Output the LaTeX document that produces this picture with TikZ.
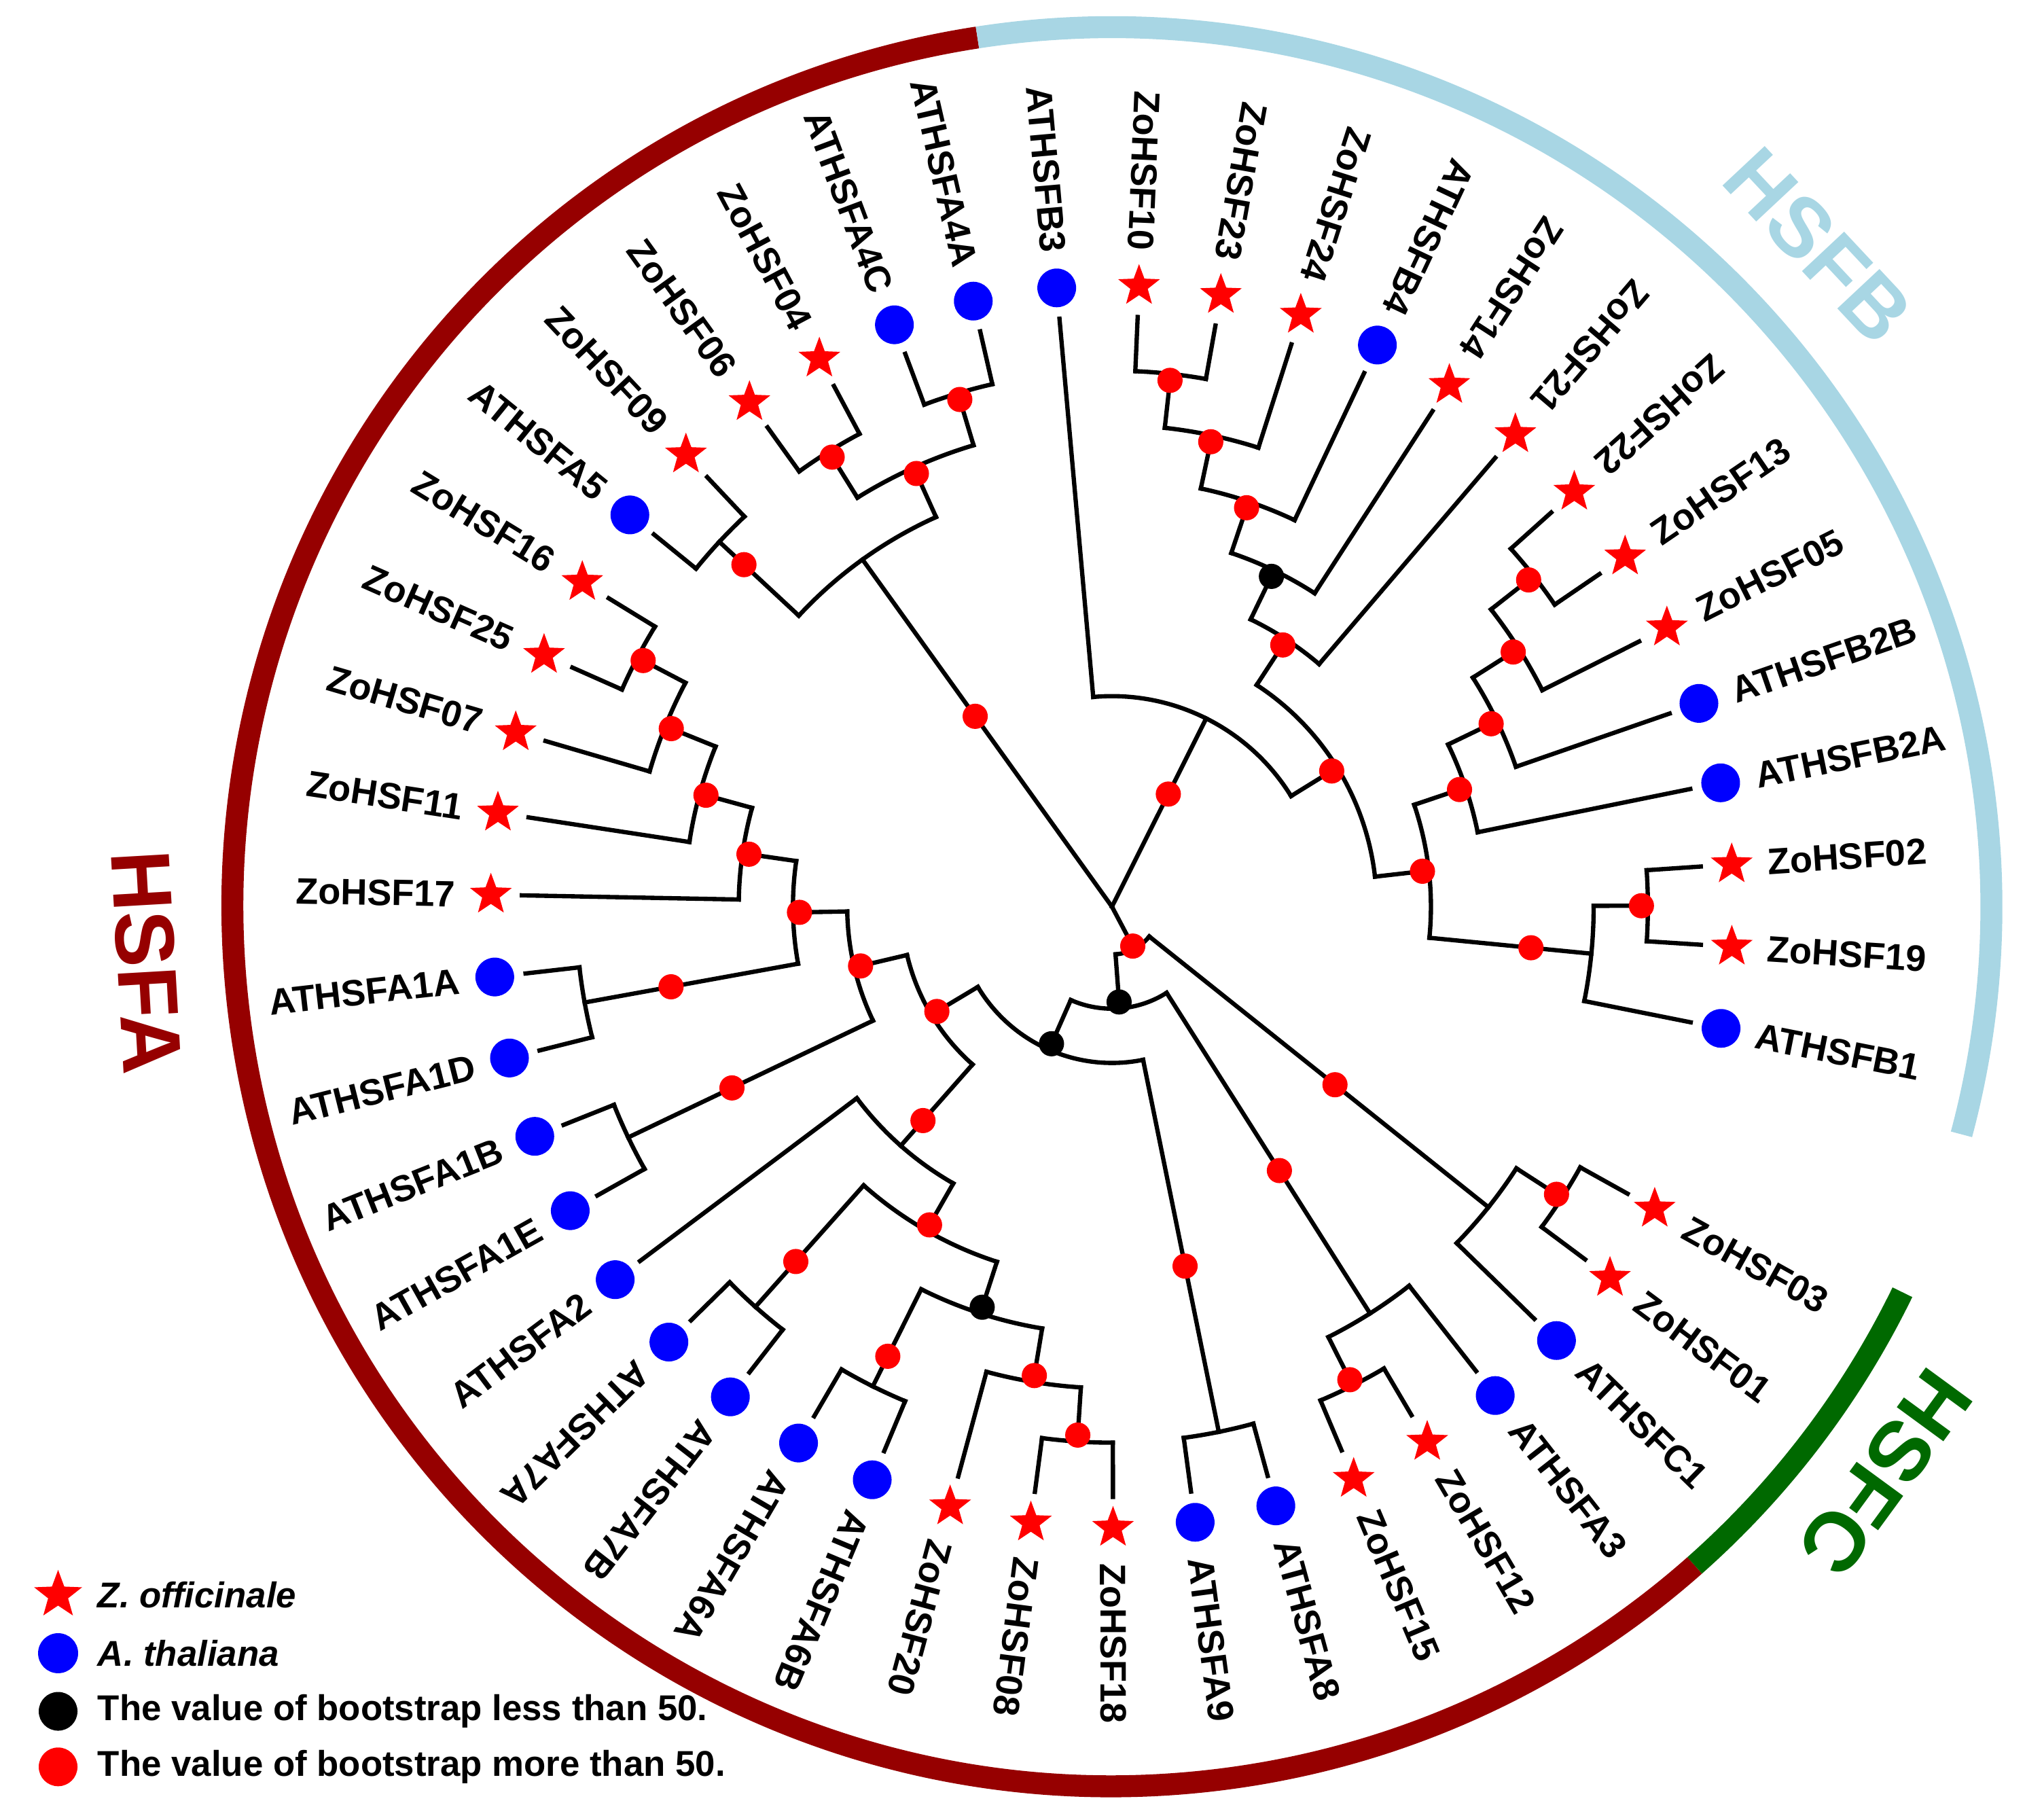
\documentclass[tikz,border=0pt]{standalone}
\usepackage{fontspec}
\setmainfont{Liberation Sans}
\usetikzlibrary{shapes.geometric}
\definecolor{atblue}{RGB}{0,0,255}
\definecolor{hsfared}{RGB}{150,0,0}
\definecolor{hsfbblue}{RGB}{168,214,228}
\definecolor{hsfcgreen}{RGB}{0,105,0}
% name/angle/level/parent level/first child angle/last child angle/support
\def\treenodes{nX4/83.7/1/2/87.5/79.9/bsup, nX3/78.0/2/3/83.7/72.3/bsup,
  nX2/71.35/3/4/78.0/64.7/bsup, nX1/64.225/4/5/71.35/57.1/blow,
  nX/56.86/5/6/64.225/49.5/bsup, nY1c/38.1/1/2/41.9/34.3/bsup,
  nY1b/32.4/2/3/38.1/26.7/bsup, nY1a/25.75/3/4/32.4/19.1/bsup,
  nY1/18.625/4/5/25.75/11.5/bsup, nY3/0.1/1/2/3.9/-3.7/bsup,
  nY2/-5.6/2/5/0.1/-11.3/bsup, nY/6.51/5/6/18.625/-5.6/bsup,
  nBXY/31.69/6/7/56.86/6.51/bsup, nB0/63.4/7/11/95.1/31.69/bsup,
  nC2/-32.9/1/2/-29.1/-36.7/bsup, nC/-38.6/2/10/-32.9/-44.3/bsup,
  nD1/-63.3/1/2/-59.5/-67.1/bsup, nD/-57.6/2/9/-51.9/-63.3/bsup,
  nE/-78.5/1/8/-74.7/-82.3/bsup, nF1/-93.7/1/2/-89.9/-97.5/bsup,
  nF/-99.4/2/3/-93.7/-105.1/bsup, nG/-116.5/1/3/-112.7/-120.3/bsup,
  nFG/-107.95/3/4/-99.4/-116.5/blow, nH/-131.7/1/4/-127.9/-135.5/bsup,
  nFGH/-119.825/4/5/-107.95/-131.7/bsup, nK/-131.46/5/7/-119.825/-143.1/bsup,
  nA1BE/-154.5/1/6/-150.7/-158.3/bsup, nA1AD/-169.7/1/5/-165.9/-173.5/bsup,
  nQ3/-207.7/1/2/-203.9/-211.5/bsup, nQ2/-202/2/3/-196.3/-207.7/bsup,
  nQ1/-195.35/3/4/-188.7/-202/bsup, nQ/-188.225/4/5/-181.1/-195.35/bsup,
  nP/-178.96/5/6/-169.7/-188.225/bsup, nM/-166.73/6/7/-154.5/-178.96/bsup,
  nN4/-149.1/7/8/-131.46/-166.73/bsup, nN3/-113.8/8/9/-78.5/-149.1/blow,
  nN2/-85.7/9/10/-57.6/-113.8/blow, nN1/-62.15/10/11/-38.6/-85.7/bsup,
  nR1/-222.9/1/3/-219.1/-226.7/bsup, nR3/-238.1/1/2/-234.3/-241.9/bsup,
  nR4/-253.3/1/2/-249.5/-257.1/bsup, nR2/-245.7/2/3/-238.1/-253.3/bsup,
  nR/-234.3/3/11/-222.9/-245.7/bsup}
% name/angle/species/parent level/turn/anchor
\def\treeleaves{ATHSFB3/95.1/athal/7/180/east, ZoHSF10/87.5/zoff/1/180/east,
  ZoHSF23/79.9/zoff/1/180/east, ZoHSF24/72.3/zoff/2/180/east,
  ATHSFB4/64.7/athal/3/180/east, ZoHSF14/57.1/zoff/4/180/east,
  ZoHSF21/49.5/zoff/5/180/east, ZoHSF22/41.9/zoff/1/180/east,
  ZoHSF13/34.3/zoff/1/0/west, ZoHSF05/26.7/zoff/2/0/west,
  ATHSFB2B/19.1/athal/3/0/west, ATHSFB2A/11.5/athal/4/0/west,
  ZoHSF02/3.9/zoff/1/0/west, ZoHSF19/-3.7/zoff/1/0/west,
  ATHSFB1/-11.3/athal/2/0/west, ZoHSF03/-29.1/zoff/1/0/west,
  ZoHSF01/-36.7/zoff/1/0/west, ATHSFC1/-44.3/athal/2/0/west,
  ATHSFA3/-51.9/athal/2/0/west, ZoHSF12/-59.5/zoff/1/0/west,
  ZoHSF15/-67.1/zoff/1/0/west, ATHSFA8/-74.7/athal/1/0/west,
  ATHSFA9/-82.3/athal/1/0/west, ZoHSF18/-89.9/zoff/1/0/west,
  ZoHSF08/-97.5/zoff/1/0/west, ZoHSF20/-105.1/zoff/2/0/west,
  ATHSFA6B/-112.7/athal/1/0/west, ATHSFA6A/-120.3/athal/1/0/west,
  ATHSFA7B/-127.9/athal/1/0/west, ATHSFA7A/-135.5/athal/1/0/west,
  ATHSFA2/-143.1/athal/5/180/east, ATHSFA1E/-150.7/athal/1/180/east,
  ATHSFA1B/-158.3/athal/1/180/east, ATHSFA1D/-165.9/athal/1/180/east,
  ATHSFA1A/-173.5/athal/1/180/east, ZoHSF17/-181.1/zoff/4/180/east,
  ZoHSF11/-188.7/zoff/3/180/east, ZoHSF07/-196.3/zoff/2/180/east,
  ZoHSF25/-203.9/zoff/1/180/east, ZoHSF16/-211.5/zoff/1/180/east,
  ATHSFA5/-219.1/athal/1/180/east, ZoHSF09/-226.7/zoff/1/180/east,
  ZoHSF06/-234.3/zoff/1/180/east, ZoHSF04/-241.9/zoff/1/180/east,
  ATHSFA4C/-249.5/athal/1/180/east, ATHSFA4A/-257.1/athal/1/180/east}
\begin{document}
\begin{tikzpicture}[
  branch/.style={line width=0.95pt, line cap=rect},
  zoff/.style={star, star points=5, star point ratio=2.4, fill=red, inner sep=0pt, minimum size=3.4mm},
  athal/.style={circle, fill=atblue, inner sep=0pt, minimum size=3mm},
  bsup/.style={circle, fill=red, inner sep=0pt, minimum size=1.95mm},
  blow/.style={circle, fill=black, inner sep=0pt, minimum size=1.95mm},
  leaflabel/.style={inner sep=0pt, font=\bfseries\fontsize{8.1}{9}\selectfont},
  band/.style={line width=1.7mm},
  clade/.style={inner sep=0pt, font=\bfseries\fontsize{18.5}{20}\selectfont},
  legtext/.style={anchor=west, inner sep=0pt, font=\bfseries\fontsize{7.9}{9}\selectfont}
]
\useasboundingbox (-8.61,-7.07) rectangle (7.07,7.02);
\coordinate (root) at (0,0);

\foreach \n/\a/\h/\hp/\aa/\ab/\s in \treenodes {
  \pgfmathsetmacro\rn{4.57-0.42*\h}
  \pgfmathsetmacro\rf{max(0,4.57-0.42*\hp)}
  \coordinate (\n) at (\a:\rn);
  \coordinate (\n-foot) at (\a:\rf);
  \draw[branch] (\aa:\rn) arc[start angle=\aa, end angle=\ab, radius=\rn];
  \draw[branch] (\n-foot) -- (\n);
}

\foreach \nm/\a/\k/\hp/\f/\an in \treeleaves {
  \pgfmathsetmacro\rf{4.57-0.42*\hp}
  \node[\k] (\nm) at (\a:4.81) {};
  \coordinate (\nm-foot) at (\a:\rf);
  \draw[branch, shorten >=2.4mm] (\nm-foot) -- (\nm.center);
  \node[leaflabel, rotate=\a+\f, anchor=\an] (\nm-lbl) at (\a:5.08) {\nm};
}

\foreach \n/\a/\h/\hp/\aa/\ab/\s in \treenodes {
  \pgfmathsetmacro\rd{(max(0,4.57-0.42*\hp)+4.57-0.42*\h)/2+0.16}
  \node[\s] (\n-bs) at (\a:\rd) {};
}

\draw[band, hsfared] (98.8:6.81) arc[start angle=98.8, end angle=311.5, radius=6.81];
\draw[band, hsfbblue] (98.8:6.81) arc[start angle=98.8, end angle=-15, radius=6.81];
\draw[band, hsfcgreen] (-26:6.81) arc[start angle=-26, end angle=-48.5, radius=6.81];
\node[clade, text=hsfared, rotate=-86.7] (HSFA) at (183.3:7.49) {HSFA};
\node[clade, text=hsfbblue, rotate=-46.9] (HSFB) at (43.1:7.49) {HSFB};
\node[clade, text=hsfcgreen, rotate=-126.2] (HSFC) at (-36.2:7.42) {HSFC};

\node[zoff, minimum size=3.9mm] (legZo) at (-8.16,-5.33) {};
\node[athal, minimum size=3.1mm] (legAt) at (-8.16,-5.78) {};
\node[blow, minimum size=3mm] (legLow) at (-8.16,-6.23) {};
\node[bsup, minimum size=3mm] (legHigh) at (-8.16,-6.66) {};
\node[legtext] (legZoTxt) at (-7.86,-5.33) {\itshape Z. officinale};
\node[legtext] (legAtTxt) at (-7.86,-5.78) {\itshape A. thaliana};
\node[legtext] (legLowTxt) at (-7.86,-6.23) {The value of bootstrap less than 50.};
\node[legtext] (legHighTxt) at (-7.86,-6.66) {The value of bootstrap more than 50.};
\end{tikzpicture}
\end{document}
